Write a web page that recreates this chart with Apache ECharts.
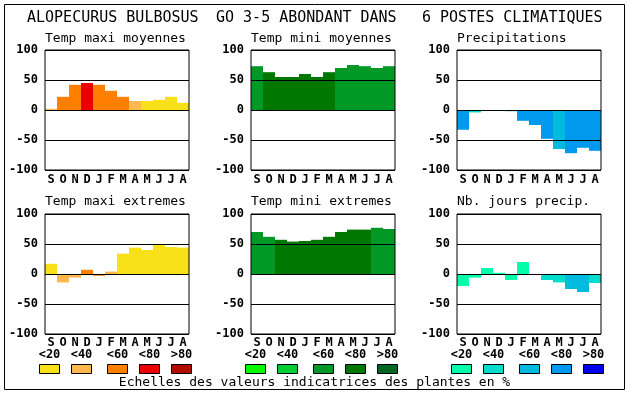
<!DOCTYPE html>
<html><head><meta charset="utf-8">
<script src="https://cdn.jsdelivr.net/npm/echarts@6/dist/echarts.min.js"></script>
<style>html,body{margin:0;padding:0;background:#fff}#c{width:630px;height:394px}</style>
</head><body><div id="c"></div>
<script>
// ---- data ----
const months = ['S','O','N','D','J','F','M','A','M','J','J','A'];
const yMin = -100, yMax = 100, yStep = 50;
const mainTitles = ['ALOPECURUS BULBOSUS', 'GO 3-5 ABONDANT DANS', '6 POSTES CLIMATIQUES'];
const panelTitles = ['Temp maxi moyennes','Temp mini moyennes','Precipitations',
                     'Temp maxi extremes','Temp mini extremes','Nb. jours precip.'];
const legendLabels = ['<20','<40','<60','<80','>80'];
const caption = 'Echelles des valeurs indicatrices des plantes en %';

const tempMaxiMoy   = [2, 22, 42, 45, 42, 32, 22, 15, 15, 17, 22, 12];
const tempMaxiMoyCl = [1, 2, 2, 3, 2, 2, 2, 1, 0, 0, 0, 0];
const tempMiniMoy   = [73, 63, 55, 55, 60, 55, 63, 70, 75, 73, 70, 73];
const tempMiniMoyCl = [2, 3, 3, 3, 3, 3, 3, 2, 2, 2, 2, 2];
const precip        = [-33, -4, 0, 0, -2, -18, -25, -48, -65, -72, -63, -68];
const precipCl      = [3, 1, 3, 3, 3, 3, 3, 3, 2, 3, 3, 3];
const tempMaxiExt   = [17, -14, -6, 7, -3, 4, 34, 44, 40, 49, 45, 44];
const tempMaxiExtCl = [0, 1, 1, 2, 2, 1, 0, 0, 0, 0, 0, 0];
const tempMiniExt   = [70, 62, 57, 54, 55, 57, 62, 70, 74, 74, 77, 75];
const tempMiniExtCl = [2, 2, 3, 3, 3, 3, 3, 3, 3, 3, 2, 2];
const joursPrecip   = [-20, -6, 10, 2, -10, 20, 0, -10, -14, -25, -30, -15];
const joursPrecipCl = [0, 0, 0, 0, 0, 0, 0, 1, 1, 2, 2, 1];

const warm  = ['#f9e11a', '#ffb84d', '#ff7f00', '#ea0000', '#b00c00'];
const green = ['#00ff00', '#00cc33', '#009926', '#007700', '#006622'];
const blue  = ['#00ffaa', '#00ddcc', '#00bbdd', '#0099ee', '#0000ee'];

// ---- layout ----
const panels = [
  {vals: tempMaxiMoy, cls: tempMaxiMoyCl, pal: warm},
  {vals: tempMiniMoy, cls: tempMiniMoyCl, pal: green},
  {vals: precip, cls: precipCl, pal: blue},
  {vals: tempMaxiExt, cls: tempMaxiExtCl, pal: warm},
  {vals: tempMiniExt, cls: tempMiniExtCl, pal: green},
  {vals: joursPrecip, cls: joursPrecipCl, pal: blue}
];
const lefts = [45, 251, 457];
const tops = [50, 214];
const W = 144, H = 120;
const MONO = '"DejaVu Sans Mono", "Liberation Mono", monospace';

const grid = [], xAxis = [], yAxis = [], series = [], graphic = [];
panels.forEach((p, i) => {
  const col = i % 3, row = Math.floor(i / 3);
  grid.push({left: lefts[col], top: tops[row], width: W, height: H, show: true,
             borderColor: '#000', borderWidth: 1, backgroundColor: 'transparent', z: 10});
  xAxis.push({type: 'category', gridIndex: i, data: months, boundaryGap: true,
    axisLine: {show: false}, axisTick: {show: false}, splitLine: {show: false},
    axisLabel: {interval: 0, margin: row === 0 ? 4 : 3, color: '#000', fontFamily: MONO,
                fontWeight: 'bold', fontSize: 12}});
  yAxis.push({type: 'value', gridIndex: i, min: yMin, max: yMax, interval: yStep, z: 10,
    axisLine: {show: false}, axisTick: {show: false},
    splitLine: {show: true, lineStyle: {color: '#000', width: 1}},
    axisLabel: {margin: 7, color: '#000', fontFamily: MONO, fontWeight: 'bold', fontSize: 12}});
  series.push({type: 'bar', xAxisIndex: i, yAxisIndex: i, barWidth: '100%', barGap: '0%',
    z: 2, silent: true,
    data: p.vals.map((v, k) => ({value: v, itemStyle: {color: p.pal[p.cls[k]]}}))});
  graphic.push({type: 'text', x: lefts[col], y: row === 0 ? 39 : 202,
    style: {text: panelTitles[i], font: '13px ' + MONO, fill: '#000',
            textAlign: 'left', textVerticalAlign: 'middle'}});
});

// main titles
const titleX = [27, 216, 422];
mainTitles.forEach((t, j) => {
  graphic.push({type: 'text', x: titleX[j], y: 18.5,
    style: {text: t, font: '15px ' + MONO, fill: '#000',
            textAlign: 'left', textVerticalAlign: 'middle'}});
});

// legends
const legStart = [39, 245, 451];
const legOff = [0, 32, 68, 100, 132];
const pals = [warm, green, blue];
pals.forEach((pal, g) => {
  pal.forEach((c, k) => {
    const x = legStart[g] + legOff[k];
    graphic.push({type: 'rect', shape: {x: x + 0.5, y: 364.5, width: 20, height: 9},
      style: {fill: c, stroke: '#000', lineWidth: 1}});
    graphic.push({type: 'text', x: x + 10.5, y: 355,
      style: {text: legendLabels[k], font: 'bold 12px ' + MONO, fill: '#000',
              textAlign: 'center', textVerticalAlign: 'middle'}});
  });
});
graphic.push({type: 'text', x: 314.5, y: 382.5,
  style: {text: caption, font: '13px ' + MONO, fill: '#000',
          textAlign: 'center', textVerticalAlign: 'middle'}});
// outer frame
graphic.push({type: 'rect', shape: {x: 4.5, y: 4.5, width: 620, height: 385},
  style: {fill: 'none', stroke: '#000', lineWidth: 1}, z: 100});

const chart = echarts.init(document.getElementById('c'), null, {renderer: 'canvas'});
chart.setOption({animation: false, backgroundColor: '#fff', grid, xAxis, yAxis, series, graphic});
</script></body></html>
